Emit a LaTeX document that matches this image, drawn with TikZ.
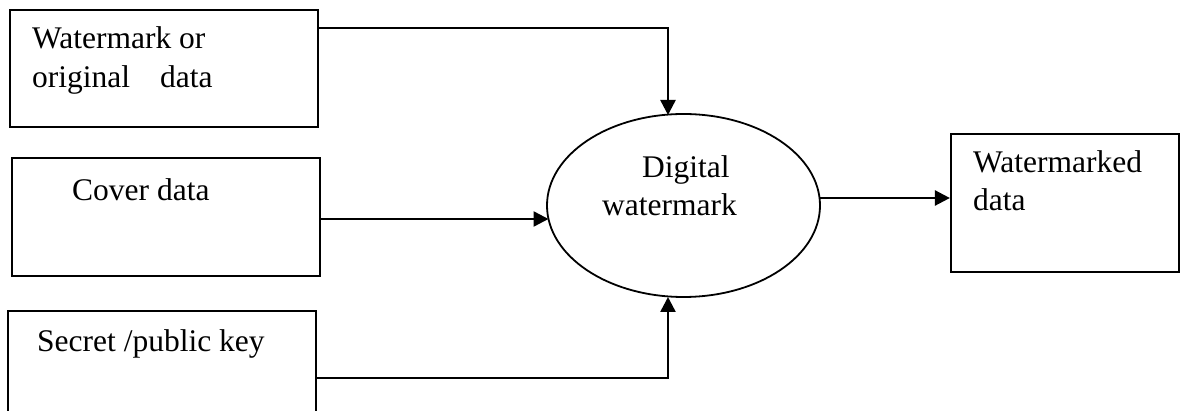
\documentclass[tikz,border=0pt]{standalone}
\usepackage{fontspec}
\setmainfont{Liberation Serif}
\usetikzlibrary{shapes.geometric,arrows.meta}
\tikzset{
  boxnode/.style={draw, line width=2.2pt, rectangle, inner sep=0pt},
  ellnode/.style={draw, line width=1.8pt, ellipse, inner sep=0pt, minimum width=273pt, minimum height=183pt},
  lbl/.style={anchor=base west, inner sep=0pt, font=\fontsize{31.5}{36}\selectfont},
  arr/.style={line width=2.5pt, -{Triangle[length=15pt,width=15pt]}},
}
\begin{document}
\begin{tikzpicture}[x=1pt,y=-1pt]
\useasboundingbox[fill=white] (0,0) rectangle (1184,411);
% boxes
\node[boxnode, minimum width=308pt, minimum height=117pt] (b1) at (164,68.5) {};
\node[boxnode, minimum width=308pt, minimum height=118pt] (b2) at (166,217) {};
\node[boxnode, minimum width=308pt, minimum height=103pt] (b3) at (162,362.5) {};
\node[boxnode, minimum width=228pt, minimum height=138pt] (b4) at (1065,203) {};
\node[ellnode] (ell) at (683.5,205.5) {};
% labels
\node[lbl] (t1a) at (32,49) {Watermark or};
\node[lbl] (t1b) at (32,88) {original\hspace{30pt}data};
\node[lbl] (t2) at (72,200.5) {Cover data};
\node[lbl] (t3) at (37,351.5) {Secret /public key};
\node[lbl] (t4a) at (642,178) {Digital};
\node[lbl] (t4b) at (602,216) {watermark};
\node[lbl] (t5a) at (973,173) {Watermarked};
\node[lbl] (t5b) at (973,211) {data};
% helper coordinates
\coordinate (vx) at (668,0);
\coordinate (y1) at (0,28);
\coordinate (y2) at (0,219);
\coordinate (y3) at (0,378);
\coordinate (y4) at (0,198);
\coordinate (e2) at (548.5,219);
\coordinate (e1) at (668,115);
\coordinate (e3) at (668,297);
\coordinate (e4) at (820,198);
% connectors
\draw[arr] (b1.east |- y1) -| (e1);
\draw[arr] (b2.east |- y2) -- (e2);
\draw[arr] (b3.east |- y3) -| (e3);
\draw[arr] (e4) -- (b4.west |- y4);
\end{tikzpicture}
\end{document}
